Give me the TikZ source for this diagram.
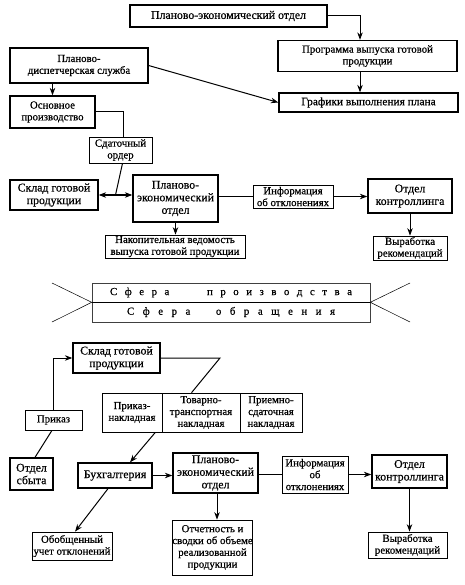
\documentclass[tikz,border=0pt]{standalone}
\usepackage{fontspec}
\setmainfont{Liberation Serif}[FakeBold=0.6]
\usetikzlibrary{arrows.meta,calc}
\newcommand\fs{\fontsize{10.8}{11.8}\selectfont}
\newcommand\fb{\fontsize{11.8}{12.6}\selectfont}
\tikzset{
  box/.style={draw, line width=0.7pt, inner sep=0pt, align=center, font=\fs},
  tbox/.style={box, line width=1.3pt},
  big/.style={font=\fb},
  sz/.style 2 args={minimum width=#1pt, minimum height=#2pt},
  arr/.style={line width=1pt, -{Stealth[length=7.5pt,width=5.5pt]}},
  dbl/.style={line width=1pt, {Stealth[length=7.5pt,width=5.5pt]}-{Stealth[length=7.5pt,width=5.5pt]}},
  ln/.style={line width=1pt},
  band/.style={draw=black!75, line width=0.6pt, inner sep=0pt, font=\fs},
  thinln/.style={line width=0.5pt},
}
\begin{document}
\begin{tikzpicture}[x=1pt,y=-1pt]
\useasboundingbox (0,0) rectangle (464,585);
% ---------- top ----------
\node[tbox, big, sz={197}{22}] (pe1) at (228.5,16) {Планово-экономический отдел};
\node[tbox, sz={179}{31}] (prog) at (367.5,56) {Программа выпуска готовой\\продукции};
\node[tbox, sz={138}{35}] (pds) at (79,65.5) {Планово-\\диспетчерская служба};
\node[tbox, sz={85}{32}] (osn) at (52.5,112) {Основное\\производство};
\node[tbox, sz={179}{19}] (graf) at (368.5,102.5) {\fontsize{11.4}{12}\selectfont Графики выполнения плана};
\draw[arr] (pe1.east) -| ([xshift=-7.5pt]prog.north);
\draw[arr] ([xshift=-7.5pt]prog.south) -- ([xshift=-8.5pt]graf.north);
\draw[arr] (pds.east) -- (graf.west);
\draw[arr] (osn.north |- pds.south) -- (osn.north);
% ---------- middle ----------
\node[box, sz={63}{26}] (sdat) at (120.5,150) {Сдаточный\\ордер};
\node[tbox, big, sz={88}{30}] (sklad1) at (54,195) {Склад готовой\\продукции};
\node[tbox, big, sz={85}{47}] (pe2) at (175.5,198.5) {Планово-\\экономический\\отдел};
\node[box, sz={80}{23}] (info1) at (293,196.5) {Информация\\об отклонениях};
\node[tbox, big, sz={84}{34}] (kontr1) at (410,196) {Отдел\\контроллинга};
\node[box, sz={140}{23}] (nakop) at (175,246.5) {Накопительная ведомость\\выпуска готовой продукции};
\node[box, sz={74}{24}] (vyr1) at (410,248) {Выработка\\рекомендаций};
\draw[ln] (osn.east) -| ([xshift=2.5pt]sdat.north);
\draw[dbl] (sklad1.east) -- (sklad1.east -| pe2.west);
\coordinate (j1) at ($(sklad1.east)!0.5!(sklad1.east -| pe2.west)$);
\draw[ln] ([xshift=2pt]sdat.south) -- (j1);
\draw[ln] (pe2.east |- info1.west) -- (info1.west);
\draw[arr] (info1.east) -- (info1.east -| kontr1.west);
\draw[arr] (pe2.south) -- (pe2.south |- nakop.north);
\draw[arr] (kontr1.south) -- (kontr1.south |- vyr1.north);
% ---------- band ----------
\node[band, sz={278}{19}] (sf1) at (231,292.5)
  {\makebox[242pt][s]{С\hfil ф\hfil е\hfil р\hfil а\hfil\hfil\hfil\hfil\hfil п\hfil р\hfil о\hfil и\hfil з\hfil в\hfil о\hfil д\hfil с\hfil т\hfil в\hfil а}};
\node[band, sz={278}{20}] (sf2) at (231,312)
  {\makebox[208pt][s]{С\hfil ф\hfil е\hfil р\hfil а\hfil\hfil\hfil о\hfil б\hfil р\hfil а\hfil щ\hfil е\hfil н\hfil и\hfil я}};
\draw[line width=1.2pt] (sf1.south west) -- (sf1.south east);
\coordinate (l1) at (52,283);
\coordinate (l2) at (52,322);
\coordinate (r1) at (410,283);
\coordinate (r2) at (410,322);
\draw[thinln] (l1) -- (sf1.south west) -- (l2);
\draw[thinln] (r1) -- (sf1.south east) -- (r2);
% ---------- bottom ----------
\node[tbox, big, sz={87}{30}] (sklad2) at (116.5,358) {Склад готовой\\продукции};
\node[box, sz={57}{20}] (prikaz) at (53.5,420) {Приказ};
\node[box, sz={60}{39}] (c1) at (132,412.5) {Приказ-\\накладная};
\node[box, sz={78}{39}] (c2) at (201,412.5) {Товарно-\\транспортная\\накладная};
\node[box, sz={62}{39}] (c3) at (271,412.5) {Приемно-\\сдаточная\\накладная};
\node[tbox, big, sz={43}{32}] (sbyt) at (31.5,474) {Отдел\\сбыта};
\node[tbox, big, sz={74}{25}] (buh) at (115,475.5) {Бухгалтерия};
\node[tbox, big, sz={85}{40}] (pe3) at (215.5,473) {Планово-\\экономический\\отдел};
\node[box, sz={66}{37}] (info2) at (315,474.5) {Информация\\об\\отклонениях};
\node[tbox, big, sz={75}{33}] (kontr2) at (409.5,471.5) {Отдел\\контроллинга};
\node[box, sz={80}{28}] (obob) at (72,546) {Обобщенный\\учет отклонений};
\node[box, sz={79}{55}] (otch) at (212.5,547.5) {Отчетность и\\сводки об объеме\\реализованной\\продукции};
\node[box, sz={79}{26}] (vyr2) at (407.5,545) {Выработка\\рекомендаций};
\coordinate (bend1) at (220,358);
\draw[ln] (sklad2.east) -- (bend1) -- ($(c2.north west)!0.38!(c2.north east)$);
\draw[arr] ([xshift=-7pt]c1.south east) -- ([xshift=15pt]buh.north);
\draw[arr] (prikaz.north) |- (sklad2.west);
\draw[ln] ([xshift=3.5pt]sbyt.north) -- ([xshift=-1.5pt]prikaz.south);
\draw[arr] (buh.east) -- (buh.east -| pe3.west);
\draw[ln] (info2.west -| pe3.east) -- (info2.west);
\draw[arr] (info2.east) -- (info2.east -| kontr2.west);
\draw[arr] ([xshift=1.5pt]pe3.south) -- ([xshift=1.5pt]pe3.south |- otch.north);
\draw[arr] (kontr2.south) -- (kontr2.south |- vyr2.north);
\draw[arr] ([xshift=-7pt]buh.south) -- ([xshift=3pt]obob.north);
\end{tikzpicture}
\end{document}
